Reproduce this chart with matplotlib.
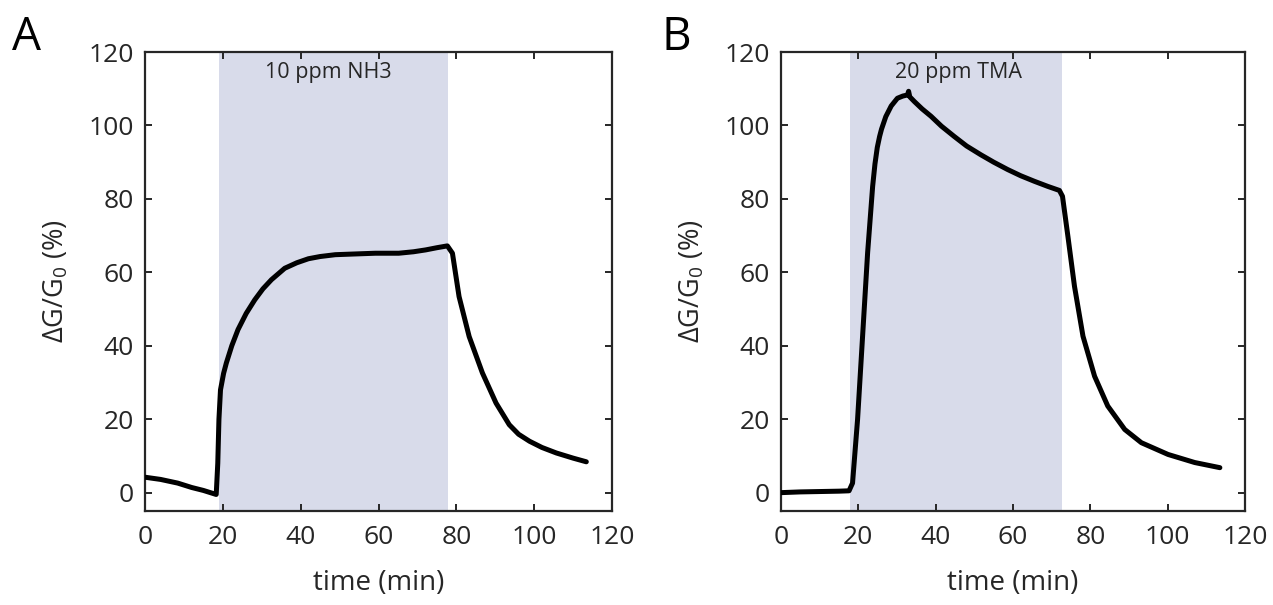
import matplotlib
matplotlib.use("Agg")
import matplotlib.pyplot as plt

# panel A: 10 ppm NH3
t_a = [0, 4, 8.4, 12, 15, 18.3, 18.7, 19.0, 19.4, 20.2, 20.9, 22.3, 23.9, 26, 28.2,
       30.3, 32.5, 35.9, 39, 42, 45, 48.9, 54, 59.2, 65.2, 69, 72.1, 75, 77.7,
       79, 80.7, 83.3, 86.7, 90.2, 93.6, 96, 98.8, 102, 105.7, 110, 113.4]
g_a = [4.2, 3.6, 2.6, 1.4, 0.6, -0.5, 8, 20, 28, 32.5, 35.3, 40, 44.4, 48.8, 52.5,
       55.5, 58, 61.1, 62.6, 63.7, 64.3, 64.8, 65.0, 65.2, 65.2, 65.6, 66.1, 66.7, 67.2,
       65.2, 53.4, 42.5, 32.6, 24.4, 18.5, 15.9, 14, 12.3, 10.8, 9.4, 8.4]
gas_a = (18.9, 77.9)
label_a = "10 ppm NH3"

# panel B: 20 ppm TMA
t_b = [0, 5, 10, 15, 17.6, 18.5, 19.8, 21.1, 22.4, 23.7, 24.3, 24.9, 25.5, 26, 27.1,
       28.5, 30.1, 31.5, 32.7, 33.0, 33.3, 34.5, 36.5, 38.8, 41.5, 44.8, 48, 51.7, 55,
       58.6, 62, 65.5, 69, 72, 72.8, 74.2, 75.9, 78.1, 81.1, 84.5, 88.9, 93.2, 100.1,
       107, 113.5]
g_b = [0, 0.2, 0.3, 0.4, 0.5, 2.6, 19.9, 42.6, 65.3, 83.4, 89.5, 94.0, 97.0, 99, 102.4,
       105.3, 107.4, 108, 108.3, 109.3, 107.8, 106.5, 104.5, 102.5, 99.8, 97, 94.4, 92, 90,
       88, 86.3, 84.8, 83.4, 82.3, 80.7, 69.8, 56.2, 42.6, 31.7, 23.6, 17.2, 13.6, 10.4,
       8.2, 6.8]
gas_b = (17.9, 72.6)
label_b = "20 ppm TMA"

xticks = [0, 20, 40, 60, 80, 100, 120]
yticks = [0, 20, 40, 60, 80, 100, 120]

ink = "#262626"
plt.rcParams["font.family"] = ["Open Sans", "DejaVu Sans"]
plt.rcParams["mathtext.fontset"] = "custom"
plt.rcParams["mathtext.rm"] = "Open Sans"
plt.rcParams["mathtext.it"] = "Open Sans"
plt.rcParams["text.color"] = ink
plt.rcParams["axes.labelcolor"] = ink

fig = plt.figure(figsize=(12.73, 6.05), dpi=100)
ax1 = fig.add_axes([145 / 1273, 94 / 605, 467 / 1273, 459 / 605])
ax2 = fig.add_axes([781 / 1273, 94 / 605, 464 / 1273, 459 / 605])

panels = [(ax1, t_a, g_a, gas_a, label_a, 47), (ax2, t_b, g_b, gas_b, label_b, 46)]
for ax, t, g, gas, lab, xt in panels:
    ax.axvspan(gas[0], gas[1], color="#d8dbea", lw=0, zorder=0)
    ax.plot(t, g, color="black", lw=3.6, solid_joinstyle="round", solid_capstyle="round", zorder=3)
    ax.text(xt, 114.4, lab, ha="center", va="center", fontsize=15.5)
    ax.set_xlim(0, 120)
    ax.set_ylim(-5, 120)
    ax.set_xticks(xticks)
    ax.set_yticks(yticks)
    ax.tick_params(direction="in", top=True, right=True, length=5, width=1.4,
                   color=ink, labelcolor=ink, labelsize=19)
    ax.tick_params(axis="y", pad=8)
    ax.tick_params(axis="x", pad=10)
    for s in ax.spines.values():
        s.set_linewidth(1.6)
        s.set_color(ink)
    ax.set_xlabel("time (min)", fontsize=20, labelpad=14)
    ax.set_ylabel(r"$\Delta$G/G$_0$ (%)", fontsize=19.5, labelpad=13)

fig.text(12 / 1273, 1 - 38 / 605, "A", fontsize=33, va="center", ha="left", color="black")
fig.text(662 / 1273, 1 - 38 / 605, "B", fontsize=33, va="center", ha="left", color="black")

fig.savefig("out.png", dpi=100)
